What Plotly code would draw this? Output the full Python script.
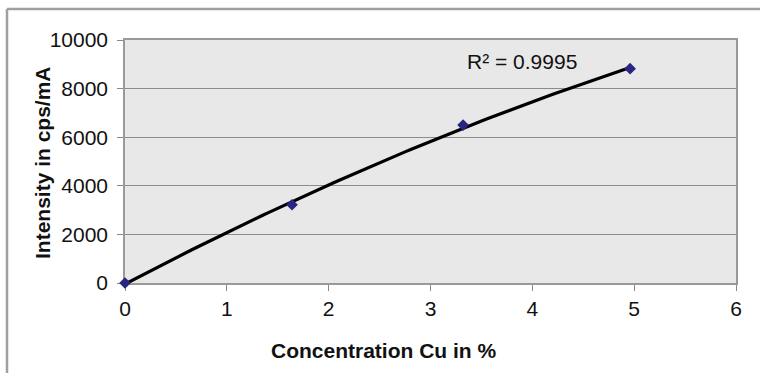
import numpy as np
import plotly.graph_objects as go

# Calibration data: Cu concentration vs measured intensity
concentration = [0.0, 1.64, 3.32, 4.96]
intensity = [0, 3220, 6500, 8820]
r_squared_label = "R² = 0.9995"
x_title = "Concentration Cu in %"
y_title = "Intensity in cps/mA"

x_ticks = [0, 1, 2, 3, 4, 5, 6]
y_ticks = [0, 2000, 4000, 6000, 8000, 10000]

# Second-order polynomial trendline fitted to the calibration points
coef = np.polyfit(concentration, intensity, 2)
fit_x = np.linspace(min(concentration), max(concentration), 100)
fit_y = np.polyval(coef, fit_x)

fig = go.Figure()
fig.add_trace(go.Scatter(
    x=fit_x, y=fit_y, mode="lines",
    line=dict(color="black", width=3.2), hoverinfo="skip", showlegend=False,
))
fig.add_trace(go.Scatter(
    x=concentration, y=intensity, mode="markers",
    marker=dict(symbol="diamond", size=9, color="#2a2580"),
    showlegend=False, cliponaxis=False,
))

FONT = "Liberation Sans, Arial, sans-serif"
axis_font = dict(family=FONT, size=21, color="#111")
title_font = dict(family=FONT, size=21, color="#111")

# plot area in pixels: left 125, right 736, top 40, bottom 283
PW, PH = 611, 243

fig.update_layout(
    width=760, height=373,
    margin=dict(l=125, r=24, t=40, b=90),
    paper_bgcolor="white",
    plot_bgcolor="#e8e8e8",
    xaxis=dict(
        range=[0, 6], tickvals=x_ticks, ticks="outside", ticklen=6,
        tickcolor="#888", showgrid=False, zeroline=False,
        showline=True, linecolor="#999", linewidth=1.5, mirror=True,
        tickfont=axis_font, layer="below traces",
    ),
    yaxis=dict(
        range=[0, 10000], tickvals=y_ticks, tickformat="d", ticks="outside", ticklen=6,
        tickcolor="#888", showgrid=True, gridcolor="#8c8c8c", gridwidth=1,
        zeroline=False, showline=True, linecolor="#999", linewidth=1.5, mirror=True,
        tickfont=axis_font, ticklabelstandoff=5, layer="below traces",
    ),
    annotations=[
        dict(x=3.9, y=9100, xref="x", yref="y", text=r_squared_label, showarrow=False,
             xanchor="center", yanchor="middle",
             font=dict(family=FONT, size=21, color="#111")),
        dict(x=(383 - 125) / PW, y=-(350 - 283) / PH, xref="paper", yref="paper",
             xanchor="center", yanchor="middle",
             text=f"<b>{x_title}</b>", showarrow=False, font=title_font),
        dict(x=(42 - 125) / PW, y=(283 - 163) / PH, xref="paper", yref="paper",
             xanchor="center", yanchor="middle",
             text=f"<b>{y_title}</b>", textangle=-90, showarrow=False, font=title_font),
    ],
    shapes=[
        # outer chart frame (top and left edges)
        dict(type="line", xref="paper", yref="paper",
             x0=(7 - 125) / PW, x1=(770 - 125) / PW,
             y0=1 + (40 - 9) / PH, y1=1 + (40 - 9) / PH,
             line=dict(color="#a0a0a0", width=2.5)),
        dict(type="line", xref="paper", yref="paper",
             x0=(7 - 125) / PW, x1=(7 - 125) / PW,
             y0=1 + (40 - 9) / PH, y1=-(383 - 283) / PH,
             line=dict(color="#a0a0a0", width=2.5)),
    ],
)

fig.write_html("out.html")
